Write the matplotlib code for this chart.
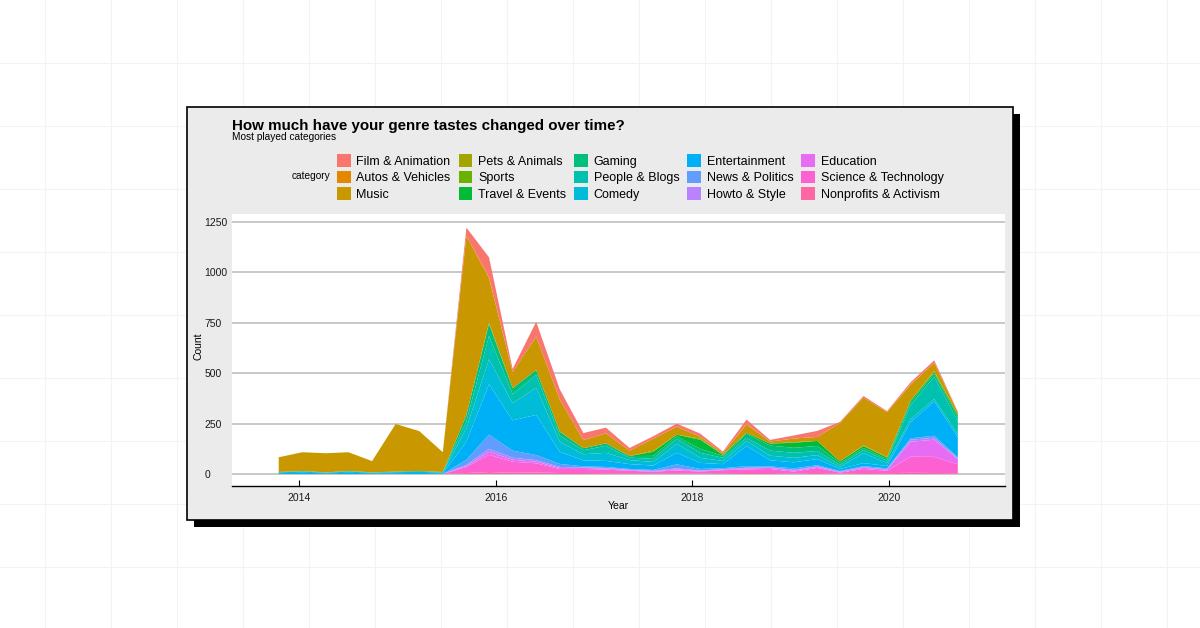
#!/usr/bin/env python3

import matplotlib

matplotlib.use("Agg")
import matplotlib.pyplot as plt
from matplotlib.lines import Line2D
from matplotlib.patches import Patch, Rectangle

W, H = 1200, 628

# quarter-ish bins, as decimal years
years = [2013.79, 2014.03, 2014.27, 2014.50, 2014.74, 2014.98, 2015.22, 2015.46,
         2015.70, 2015.93, 2016.17, 2016.41, 2016.65, 2016.89, 2017.12, 2017.36,
         2017.60, 2017.84, 2018.08, 2018.31, 2018.55, 2018.79, 2019.03, 2019.27,
         2019.50, 2019.74, 2019.98, 2020.22, 2020.46, 2020.70]

categories = ["Film & Animation", "Autos & Vehicles", "Music", "Pets & Animals",
              "Sports", "Travel & Events", "Gaming", "People & Blogs", "Comedy",
              "Entertainment", "News & Politics", "Howto & Style", "Education",
              "Science & Technology", "Nonprofits & Activism"]

colors = ["#F8766D", "#E58700", "#C99800", "#A3A500", "#6BB100", "#00BA38",
          "#00BF7D", "#00C0AF", "#00BCD8", "#00B0F6", "#619CFF", "#B983FF",
          "#E76BF3", "#FD61D1", "#FF67A4"]

film = [0, 0, 0, 0, 0, 0, 0, 0, 40, 100, 15, 74, 50, 35, 28, 13, 12, 15, 15, 8,
        22, 8, 15, 30, 5, 8, 5, 10, 12, 4]
autos = [0, 0, 0, 0, 0, 0, 0, 0, 0, 3, 0, 0, 0, 0, 0, 0, 0, 0, 0, 0,
         2, 0, 0, 0, 0, 0, 0, 2, 0, 0]
music = [73, 93, 95, 93, 56, 236, 198, 98, 889, 222, 80, 165, 160, 40, 50, 27, 60, 40, 10, 8,
         42, 10, 18, 20, 190, 237, 223, 78, 42, 12]
pets = [0, 0, 0, 0, 0, 0, 0, 0, 0, 2, 0, 0, 0, 0, 0, 0, 0, 0, 0, 0,
        0, 0, 0, 0, 0, 3, 2, 0, 3, 0]
sports = [0, 0, 0, 0, 0, 0, 0, 0, 0, 0, 0, 0, 0, 0, 0, 0, 5, 0, 5, 0,
          0, 0, 3, 0, 0, 0, 0, 0, 2, 0]
travel = [0, 0, 0, 0, 0, 0, 0, 0, 0, 3, 0, 0, 0, 0, 0, 0, 20, 8, 45, 5,
          5, 10, 25, 25, 8, 10, 8, 8, 8, 10]
gaming = [0, 0, 0, 0, 0, 0, 0, 0, 30, 60, 30, 25, 20, 10, 12, 8, 15, 12, 20, 10,
          20, 25, 25, 25, 10, 10, 8, 15, 15, 20]
people = [2, 3, 2, 3, 2, 3, 4, 3, 35, 115, 45, 63, 30, 20, 35, 12, 15, 25, 25, 15,
          15, 25, 25, 20, 10, 15, 12, 70, 110, 65]
comedy = [4, 6, 3, 6, 3, 5, 6, 4, 68, 125, 85, 135, 50, 30, 40, 20, 18, 45, 25, 16,
          25, 23, 22, 20, 10, 50, 14, 15, 12, 15]
entertainment = [4, 6, 3, 6, 3, 4, 5, 3, 90, 250, 150, 199, 60, 30, 30, 24, 22, 57, 30, 20,
                 100, 30, 30, 30, 10, 15, 12, 80, 170, 100]
news = [0, 0, 0, 0, 0, 0, 0, 0, 25, 70, 35, 25, 15, 5, 5, 4, 4, 20, 8, 5,
        8, 5, 8, 6, 3, 5, 4, 7, 10, 5]
howto = [0, 0, 0, 0, 0, 0, 0, 0, 5, 15, 10, 8, 5, 3, 3, 2, 2, 5, 2, 2,
         3, 3, 3, 3, 2, 3, 2, 10, 10, 5]
education = [0, 0, 0, 0, 0, 0, 0, 0, 5, 15, 10, 8, 5, 5, 5, 3, 3, 5, 3, 3,
             5, 5, 5, 5, 3, 6, 6, 74, 85, 25]
science = [0, 0, 0, 0, 0, 0, 0, 0, 30, 85, 55, 45, 20, 20, 18, 12, 8, 15, 10, 15,
           18, 20, 10, 25, 5, 20, 12, 80, 80, 45]
nonprofits = [0, 0, 0, 0, 0, 0, 0, 0, 5, 10, 6, 8, 5, 5, 4, 4, 3, 3, 2, 4,
              5, 5, 2, 5, 2, 5, 4, 6, 5, 3]

series = [film, autos, music, pets, sports, travel, gaming, people, comedy,
          entertainment, news, howto, education, science, nonprofits]


def fx(x):
    return x / W


def fy(y):
    return 1 - y / H


plt.rcParams["font.family"] = ["Liberation Sans", "DejaVu Sans"]

fig = plt.figure(figsize=(12, 6.28), dpi=100)
fig.patch.set_facecolor("white")

# faint page grid behind the card
for gx in range(44, W, 66):
    fig.add_artist(Line2D([fx(gx + 0.5)] * 2, [0, 1], color="#f3f3f3", lw=0.75, zorder=0.1))
for gy in range(62, H, 63):
    fig.add_artist(Line2D([0, 1], [fy(gy + 0.5)] * 2, color="#f3f3f3", lw=0.75, zorder=0.1))

# drop shadow + card
card_l, card_t, card_r, card_b = 187, 107, 1013, 520
fig.add_artist(Rectangle((fx(card_l + 7), fy(card_b + 7)), (card_r - card_l) / W,
                         (card_b - card_t) / H, facecolor="black", edgecolor="none", zorder=0.2))
fig.add_artist(Rectangle((fx(card_l), fy(card_b)), (card_r - card_l) / W,
                         (card_b - card_t) / H, facecolor="#ebebeb", edgecolor="black",
                         lw=1.2, zorder=0.3))

ax = fig.add_axes([fx(232), fy(486), 773 / W, 272 / H])
ax.set_zorder(1)
ax.set_facecolor("white")

# ggplot stacks the first level on top, so reverse for stackplot
ax.stackplot(years, series[::-1], colors=colors[::-1], lw=0)

ax.set_xlim(2013.315, 2021.18)
ax.set_ylim(-59.5, 1289.7)
ax.set_xticks([2014, 2016, 2018, 2020])
ax.set_yticks([0, 250, 500, 750, 1000, 1250])
ax.yaxis.grid(True, color="#c4c4c4", lw=1.3)
ax.set_axisbelow(True)
for side in ["top", "right", "left"]:
    ax.spines[side].set_visible(False)
ax.spines["bottom"].set_color("black")
ax.spines["bottom"].set_linewidth(1.0)
ax.tick_params(axis="x", direction="in", length=4.5, width=0.8, color="black",
               labelsize=7.5, labelcolor="#1a1a1a", pad=5)
ax.tick_params(axis="y", length=0, labelsize=7.5, labelcolor="#1a1a1a", pad=20)
for lbl in ax.get_yticklabels():
    lbl.set_horizontalalignment("left")

fig.text(fx(199), fy(346), "Count", rotation=90, fontsize=7.5, ha="center", va="center")
fig.text(fx(618), fy(506), "Year", fontsize=7.5, ha="center", va="center")

fig.text(fx(232), fy(130), "How much have your genre tastes changed over time?",
         fontsize=10.9, fontweight="bold", va="baseline")
fig.text(fx(232), fy(139.5), "Most played categories", fontsize=7.3, va="baseline")

handles = [Patch(facecolor=c, edgecolor="none") for c in colors]
leg = fig.legend(handles, categories, ncol=5, loc="upper left",
                 bbox_to_anchor=(fx(337), fy(154)), frameon=False, fontsize=9.0,
                 handlelength=1.1, handleheight=1.18, handletextpad=0.45,
                 columnspacing=0.64, labelspacing=0.24, borderpad=0, borderaxespad=0)
leg.set_zorder(5)
fig.text(fx(330), fy(176), "category", fontsize=7.3, ha="right", va="center")

fig.savefig("out.png", dpi=100)
